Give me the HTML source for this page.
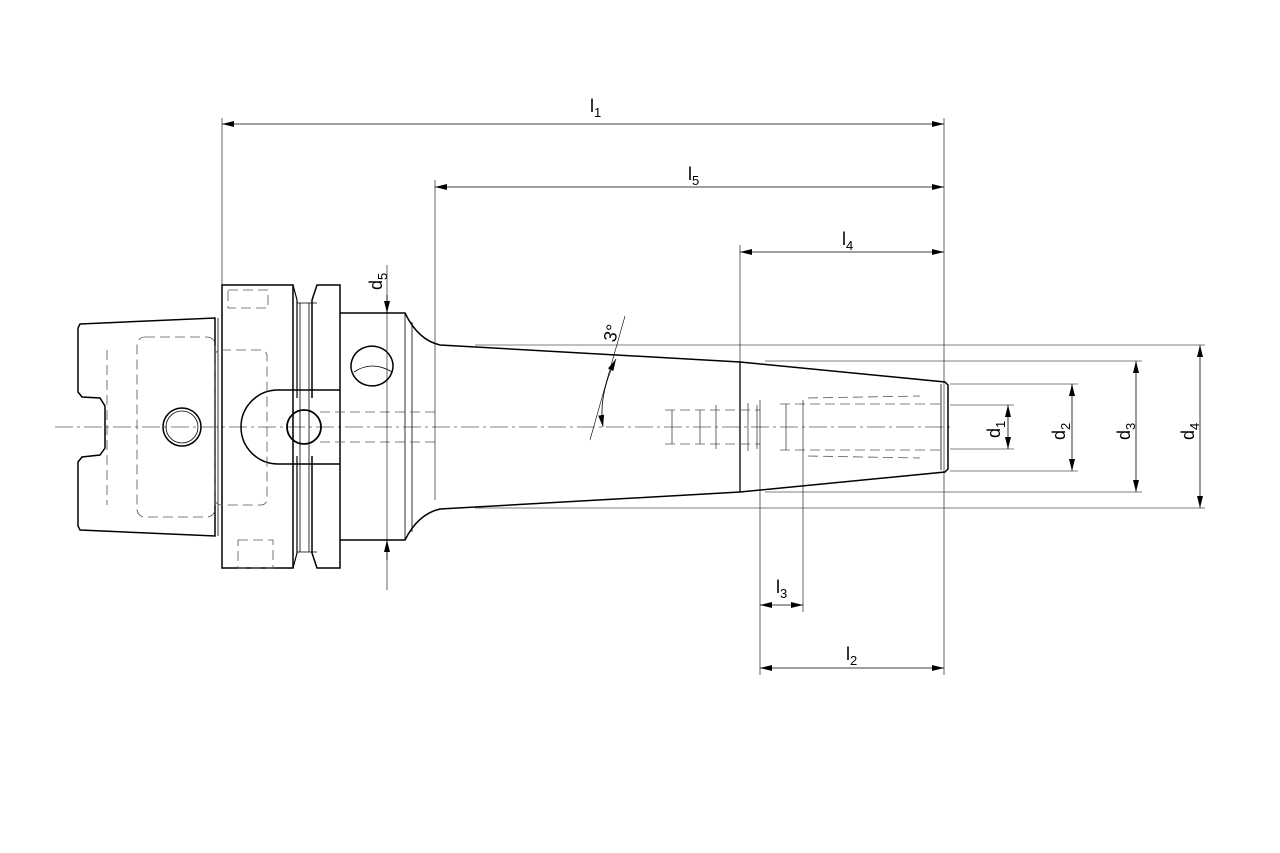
<!DOCTYPE html>
<html><head><style>
html,body{margin:0;padding:0;background:#fff;width:1280px;height:853px;overflow:hidden}
svg{display:block}
text{font-family:"Liberation Sans",sans-serif;fill:#000}
</style></head><body>
<svg width="1280" height="853" viewBox="0 0 1280 853" xmlns="http://www.w3.org/2000/svg">
<defs>
<marker id="a" viewBox="0 0 12 6" refX="12" refY="3" markerWidth="12" markerHeight="6" orient="auto-start-reverse" markerUnits="userSpaceOnUse"><path d="M0,0 L12,3 L0,6 Z" fill="#000"/></marker>
</defs>
<g stroke="#000" fill="none" stroke-width="0.8">
<!-- centerline -->
<line x1="55" y1="427" x2="950" y2="427" stroke="#555" stroke-dasharray="18,4,3,4"/>
<!-- shank -->
<path d="M80,324 L215,318 L215,536 L80,530 L78,526 L78,462 L82,457 L100,455 L105,448 L105,406 L100,398 L82,397 L78,392 L78,328 Z" stroke-width="1.5"/>
<line x1="218" y1="318" x2="218" y2="536"/>
<!-- flange -->
<path d="M222,285 L293,285 L293,568 L222,568 Z" stroke-width="1.5"/>
<path d="M293,285 L297,300 L297,398 M297,456 L297,553 L293,568" stroke-width="1.2"/>
<path d="M297,303 L317,303 M297,552 L317,552" />
<path d="M312,300 L317,285 L340,285 L340,568 L317,568 L312,553 L312,456 M312,398 L312,300" stroke-width="1.5"/>
<line x1="300" y1="303" x2="300" y2="552"/>
<line x1="309" y1="303" x2="309" y2="552"/>
<!-- slot -->
<path d="M340,390 L278,390 A37,37 0 0 0 278,464 L340,464" stroke-width="1.5"/>
<circle cx="304" cy="427" r="17" stroke-width="1.8"/>
<circle cx="182" cy="427" r="19" stroke-width="1.5"/>
<circle cx="182" cy="427" r="16"/>
<!-- body -->
<path d="M340,313 L405,313 Q418,340 440,345 L740,362 L945,382 L948,385 L948,469 L945,472 L740,492 L440,509 Q418,514 405,540 L340,540" stroke-width="1.5"/>
<line x1="405" y1="313" x2="405" y2="540"/>
<line x1="412" y1="322" x2="412" y2="532"/>
<line x1="740" y1="362" x2="740" y2="492" stroke-width="1.3"/>
<line x1="941" y1="384" x2="941" y2="470"/>
<path d="M352,360 A19,18 0 1 1 392,372 A19,18 0 1 1 352,360" stroke-width="1.5"/>
<path d="M354,372 Q372,360 392,372" />
<!-- hidden lines -->
<g stroke="#555" stroke-dasharray="10,5">
<rect x="137" y="337" width="78" height="180" rx="8"/>
<rect x="215" y="350" width="52" height="155" rx="6"/>
<rect x="228" y="290" width="40" height="18"/>
<rect x="238" y="540" width="35" height="28"/>
<line x1="320" y1="412" x2="440" y2="412"/><line x1="320" y1="442" x2="440" y2="442"/>
<line x1="665" y1="410" x2="760" y2="410"/><line x1="665" y1="444" x2="760" y2="444"/>
<line x1="780" y1="404" x2="940" y2="404"/><line x1="780" y1="450" x2="940" y2="450"/>
<path d="M808,398 L920,396 M808,456 L920,458"/>
<line x1="107" y1="350" x2="107" y2="505"/>
</g>
<path d="M672,410 L672,444 M700,410 L700,444 M716,405 L716,449 M748,403 L748,451 M757,405 L757,449 M786,404 L786,450" stroke="#444"/>
<!-- extension lines -->
<g stroke-width="0.6">
<line x1="222" y1="118" x2="222" y2="285"/>
<line x1="944" y1="118" x2="944" y2="675"/>
<line x1="435" y1="180" x2="435" y2="500"/>
<line x1="740" y1="245" x2="740" y2="362"/>
<line x1="760" y1="400" x2="760" y2="675"/>
<line x1="803" y1="400" x2="803" y2="612"/>
<line x1="387" y1="265" x2="387" y2="590"/>
<line x1="475" y1="345" x2="1205" y2="345"/>
<line x1="475" y1="508" x2="1205" y2="508"/>
<line x1="765" y1="361" x2="1142" y2="361"/>
<line x1="765" y1="492" x2="1142" y2="492"/>
<line x1="950" y1="384" x2="1078" y2="384"/>
<line x1="950" y1="471" x2="1078" y2="471"/>
<line x1="950" y1="405" x2="1014" y2="405"/>
<line x1="950" y1="449" x2="1014" y2="449"/>
<line x1="625" y1="316" x2="590" y2="440"/>
</g>
<!-- dimension lines -->
<g stroke-width="0.8">
<line x1="222" y1="124" x2="944" y2="124" marker-start="url(#a)" marker-end="url(#a)"/>
<line x1="435" y1="187" x2="944" y2="187" marker-start="url(#a)" marker-end="url(#a)"/>
<line x1="740" y1="252" x2="944" y2="252" marker-start="url(#a)" marker-end="url(#a)"/>
<line x1="760" y1="668" x2="944" y2="668" marker-start="url(#a)" marker-end="url(#a)"/>
<line x1="760" y1="605" x2="803" y2="605" marker-start="url(#a)" marker-end="url(#a)"/>
<line x1="1008" y1="405" x2="1008" y2="449" marker-start="url(#a)" marker-end="url(#a)"/>
<line x1="1072" y1="384" x2="1072" y2="471" marker-start="url(#a)" marker-end="url(#a)"/>
<line x1="1136" y1="361" x2="1136" y2="492" marker-start="url(#a)" marker-end="url(#a)"/>
<line x1="1200" y1="345" x2="1200" y2="508" marker-start="url(#a)" marker-end="url(#a)"/>
<line x1="387" y1="295" x2="387" y2="313" marker-end="url(#a)"/>
<line x1="387" y1="560" x2="387" y2="540" marker-end="url(#a)"/>
<path d="M616,359 Q598,395 603,427" marker-start="url(#a)" marker-end="url(#a)"/>
</g>
</g>
<g font-size="18">
<text x="590" y="112">l<tspan font-size="13" dy="5">1</tspan></text>
<text x="688" y="180">l<tspan font-size="13" dy="5">5</tspan></text>
<text x="842" y="245">l<tspan font-size="13" dy="5">4</tspan></text>
<text x="776" y="593">l<tspan font-size="13" dy="5">3</tspan></text>
<text x="846" y="660">l<tspan font-size="13" dy="5">2</tspan></text>
<text transform="translate(1000,438) rotate(-90)">d<tspan font-size="13" dy="5">1</tspan></text>
<text transform="translate(1065,440) rotate(-90)">d<tspan font-size="13" dy="5">2</tspan></text>
<text transform="translate(1130,440) rotate(-90)">d<tspan font-size="13" dy="5">3</tspan></text>
<text transform="translate(1194,440) rotate(-90)">d<tspan font-size="13" dy="5">4</tspan></text>
<text transform="translate(382,290) rotate(-90)">d<tspan font-size="13" dy="5">5</tspan></text>
<text transform="translate(615,343) rotate(-75)">3°</text>
</g>
</svg>
</body></html>
